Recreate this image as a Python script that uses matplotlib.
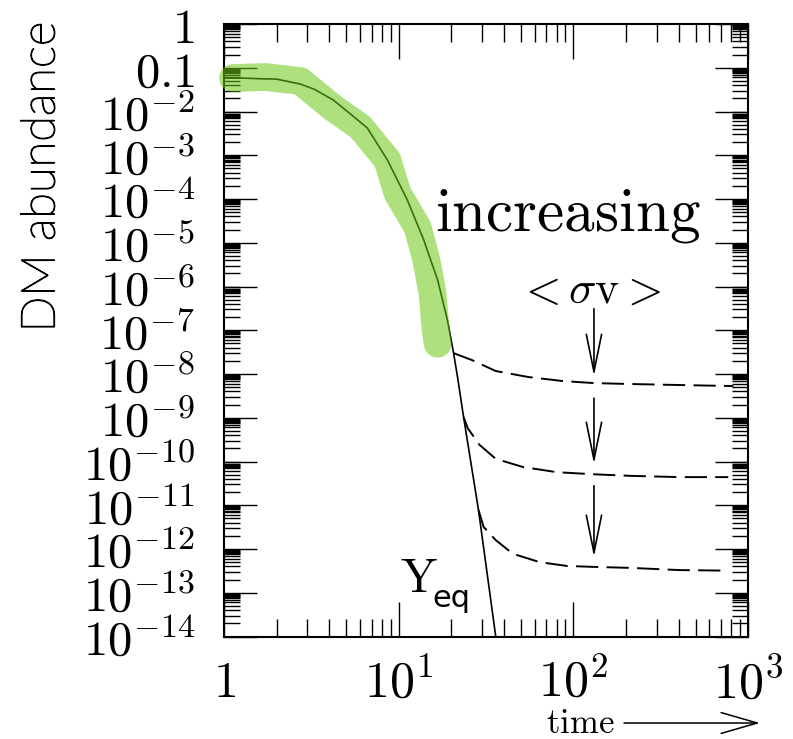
import matplotlib
matplotlib.use('Agg')
import matplotlib.pyplot as plt
import matplotlib.patheffects as pe
from matplotlib.ticker import LogLocator, NullFormatter, FixedLocator

plt.rcParams['mathtext.fontset'] = 'cm'
plt.rcParams['lines.scale_dashes'] = False

# ---------------- data ----------------
x_ticks = [1, 10, 100, 1000]
x_tick_labels = ['$1$', '$10^{1}$', '$10^{2}$', '$10^{3}$']
y_ticks = [1, 1e-1, 1e-2, 1e-3, 1e-4, 1e-5, 1e-6, 1e-7, 1e-8, 1e-9,
           1e-10, 1e-11, 1e-12, 1e-13, 1e-14]
y_tick_labels = ['$1$', '$0.1$', '$10^{-2}$', '$10^{-3}$', '$10^{-4}$',
                 '$10^{-5}$', '$10^{-6}$', '$10^{-7}$', '$10^{-8}$',
                 '$10^{-9}$', '$10^{-10}$', '$10^{-11}$', '$10^{-12}$',
                 '$10^{-13}$', '$10^{-14}$']

# equilibrium abundance (solid line)
yeq_x = [1.0, 1.3, 1.61, 2.0, 2.73, 3.3, 4.22, 5.2, 6.61, 8.61, 11.2, 13.9,
         16.7, 19.0, 20.6, 21.7, 23.5, 28.6, 35.9]
yeq_y = [0.058, 0.058, 0.056, 0.055, 0.0425, 0.032, 0.0183, 9.3e-3, 4.2e-3,
         7.8e-4, 9.5e-5, 1.16e-5, 1.4e-6, 1.7e-7, 3.0e-8, 8.5e-9, 1.04e-9,
         7.8e-12, 1.0e-14]

# freeze-out curves (dashed), for increasing <sigma v>
dash1_x = [20.6, 26.1, 35.9, 55.5, 86.9, 131, 213, 402, 822]
dash1_y = [3.0e-8, 2.1e-8, 1.17e-8, 8.5e-9, 6.9e-9, 6.2e-9, 5.9e-9, 5.6e-9, 5.3e-9]
dash2_x = [23.5, 24.8, 29.0, 35.9, 51.3, 80.3, 131, 213, 402, 769]
dash2_y = [1.04e-9, 5.8e-10, 2.4e-10, 1.15e-10, 7.5e-11, 5.7e-11, 5.1e-11,
           4.7e-11, 4.4e-11, 4.4e-11]
dash3_x = [28.6, 30.6, 35.9, 44.9, 64.1, 91.6, 131, 213, 402, 769]
dash3_y = [7.8e-12, 3.2e-12, 1.6e-12, 7.8e-13, 5.0e-13, 4.1e-13, 3.9e-13,
           3.7e-13, 3.3e-13, 3.2e-13]

# green highlighted stretch
green_x = [1.126, 1.719, 2.73, 4.22, 6.03, 8.61, 9.83, 12.8, 14.4, 15.6, 16.2, 16.7]
green_y = [0.0583, 0.0615, 0.0498, 0.0120, 4.43e-3, 7.8e-4, 1.37e-4, 2.29e-5,
           4.0e-6, 7.1e-7, 1.19e-7, 4.9e-8]

# arrows
arrow_x = 131
arrow_start_y = [3.1e-7, 2.8e-9, 2.8e-11]
arrow_end_y = [9e-9, 8.8e-11, 6.6e-13]

# ---------------- figure ----------------
fig = plt.figure(figsize=(7.93, 7.39), dpi=100)
ax = fig.add_axes([0.2825, 0.1387, 0.661, 0.8288])
ax.set_xscale('log')
ax.set_yscale('log')
ax.set_xlim(1, 1000)
ax.set_ylim(1e-14, 1)

ax.plot(yeq_x, yeq_y, color='black', lw=1.2, zorder=3)
for dx, dy in [(dash1_x, dash1_y), (dash2_x, dash2_y), (dash3_x, dash3_y)]:
    ax.plot(dx, dy, color='black', lw=1.4, dashes=(16, 6), zorder=3)

ax.plot(green_x, green_y, color=(110/255, 200/255, 20/255), alpha=0.55,
        lw=20, solid_capstyle='round', solid_joinstyle='round',
        clip_on=False, zorder=4)

for ys, ye in zip(arrow_start_y, arrow_end_y):
    ax.annotate('', xy=(arrow_x, ye), xytext=(arrow_x, ys),
                arrowprops=dict(arrowstyle='->,head_length=2.7,head_width=0.55',
                                lw=1.2, color='black', shrinkA=0, shrinkB=0,
                                mutation_scale=10))

ax.text(16.2, 1.86e-5, r'$\mathrm{increasing}$', fontsize=44,
        ha='left', va='baseline')
ax.text(122, 4.2e-7, r'${<}\sigma\mathrm{v}{>}$', fontsize=33,
        ha='center', va='baseline')
ax.text(10.2, 1.05e-13, r'$\mathrm{Y}$', fontsize=35, ha='left', va='baseline')
ax.text(15.5, 4.7e-14, 'eq', fontsize=22, ha='left', va='baseline',
        family='DejaVu Sans')

# ticks
ax.xaxis.set_major_locator(FixedLocator(x_ticks))
ax.set_xticklabels(x_tick_labels)
ax.xaxis.set_minor_locator(LogLocator(base=10, subs=[2, 3, 4, 5, 6, 7, 8, 9]))
ax.xaxis.set_minor_formatter(NullFormatter())
ax.yaxis.set_major_locator(FixedLocator(y_ticks))
ax.set_yticklabels(y_tick_labels)
ax.yaxis.set_minor_locator(LogLocator(base=10, subs=[2, 3, 4, 5, 6, 7, 7.5, 8, 8.5, 9, 9.5],
                                      numticks=30))
ax.yaxis.set_minor_formatter(NullFormatter())

ax.tick_params(axis='x', which='major', direction='in', top=True, bottom=True,
               length=25, width=1.0, labelsize=36, pad=16)
ax.tick_params(axis='x', which='minor', direction='in', top=True, bottom=True,
               length=13, width=1.0)
ax.tick_params(axis='y', which='major', direction='in', left=True, right=True,
               length=24, width=1.0, labelsize=35, pad=21)
ax.tick_params(axis='y', which='minor', direction='in', left=True, right=True,
               length=11.5, width=1.0)
for s in ax.spines.values():
    s.set_linewidth(1.5)

fig.text(42/793, 1 - 177/739, 'DM abundance', rotation=90, fontsize=34,
         family='Lato', fontweight='light', color='black',
         ha='center', va='center',
         path_effects=[pe.withStroke(linewidth=0.9, foreground='black')])

fig.text(546/793, 1 - 733/739, r'$\mathrm{time}$', fontsize=25,
         ha='left', va='baseline')
ax.annotate('', xy=(760/793, 1 - 723/739), xytext=(624/793, 1 - 723/739),
            xycoords='figure fraction', textcoords='figure fraction',
            arrowprops=dict(arrowstyle='->,head_length=2.6,head_width=0.75',
                            lw=1.1, color='black', shrinkA=0, shrinkB=0,
                            mutation_scale=10))

fig.savefig('out.png', dpi=100)
